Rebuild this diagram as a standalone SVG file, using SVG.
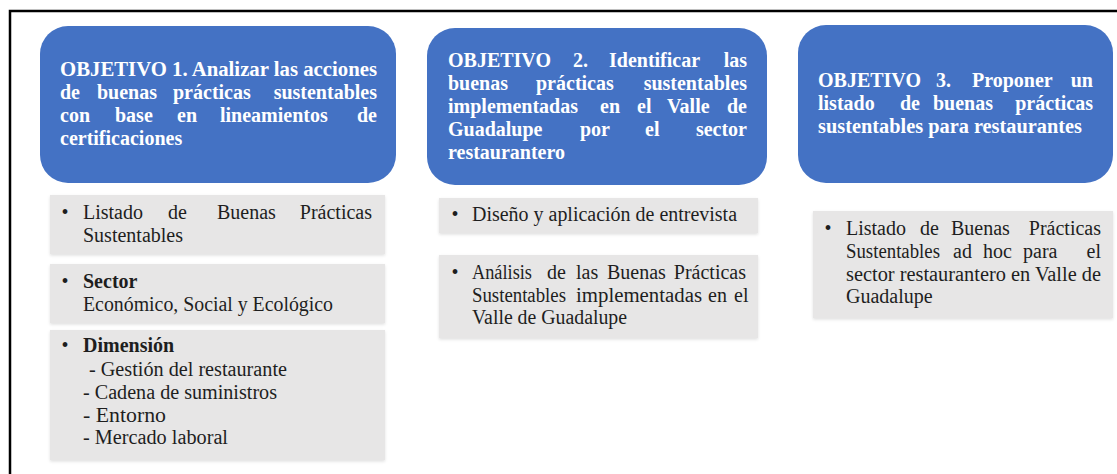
<svg xmlns="http://www.w3.org/2000/svg" width="1117" height="474" viewBox="0 0 1117 474">
<style>
.obj{fill:#4472C4}
.t{font-family:'Liberation Serif','Times New Roman',serif;font-weight:bold;font-size:20px;fill:#ffffff}
.g{fill:#E7E6E6;filter:url(#sh)}
.b{font-family:'Liberation Serif','Times New Roman',serif;font-size:20px;fill:#1e1e1e}
.bb{font-weight:bold}
.m{text-anchor:middle}
.e{text-anchor:end}
</style>
<defs>
<filter id="sh" x="-5%" y="-5%" width="110%" height="120%">
<feDropShadow dx="0" dy="1.5" stdDeviation="1.5" flood-color="#000" flood-opacity="0.12"/>
</filter>
</defs>
<rect width="1117" height="474" fill="#ffffff"/>
<g id="frame">
<path d="M10,474 V11 H1117" fill="none" stroke="#000" stroke-width="2.5"/>
</g>

<g id="obj1">
<rect class="obj" x="40" y="26" width="356" height="157" rx="28"/>
<text class="t" x="60" y="76" textLength="317" lengthAdjust="spacingAndGlyphs">OBJETIVO 1. Analizar las acciones</text>
<text class="t" y="99"><tspan x="60">de</tspan><tspan x="97">buenas</tspan><tspan x="173">prácticas</tspan></text>
<text class="t e" x="377" y="99">sustentables</text>
<text class="t" y="122"><tspan x="60">con</tspan><tspan x="115">base</tspan><tspan x="177">en</tspan><tspan x="220">lineamientos</tspan></text>
<text class="t e" x="377" y="122">de</text>
<text class="t" x="60" y="145">certificaciones</text>
</g>

<g id="obj2">
<rect class="obj" x="427" y="28" width="340" height="157" rx="28"/>
<text class="t" y="67"><tspan x="448">OBJETIVO</tspan><tspan x="573">2.</tspan><tspan x="609">Identificar</tspan></text>
<text class="t e" x="747" y="67">las</text>
<text class="t" y="90"><tspan x="448">buenas</tspan><tspan x="536">prácticas</tspan></text>
<text class="t e" x="747" y="90">sustentables</text>
<text class="t" y="113"><tspan x="448">implementadas</tspan><tspan x="600">en</tspan><tspan x="637">el</tspan><tspan x="667">Valle</tspan></text>
<text class="t e" x="747" y="113">de</text>
<text class="t" y="136"><tspan x="448">Guadalupe</tspan><tspan x="580">por</tspan><tspan x="645">el</tspan></text>
<text class="t e" x="747" y="136">sector</text>
<text class="t" x="448" y="159">restaurantero</text>
</g>

<g id="obj3">
<rect class="obj" x="798" y="25" width="315" height="158" rx="28"/>
<text class="t" y="87"><tspan x="818">OBJETIVO</tspan><tspan x="936">3.</tspan><tspan x="972">Proponer</tspan></text>
<text class="t e" x="1093" y="87">un</text>
<text class="t" y="110"><tspan x="818">listado</tspan><tspan x="900">de</tspan><tspan x="933">buenas</tspan></text>
<text class="t e" x="1093" y="110">prácticas</text>
<text class="t" x="818" y="133" textLength="264" lengthAdjust="spacingAndGlyphs">sustentables para restaurantes</text>
</g>

<g id="item1a">
<rect class="g" x="50" y="195" width="335" height="59"/>
<text class="b m" x="65" y="219">•</text>
<text class="b" y="219"><tspan x="83">Listado</tspan><tspan x="168">de</tspan><tspan x="217">Buenas</tspan></text>
<text class="b e" x="372" y="219">Prácticas</text>
<text class="b" x="83" y="242">Sustentables</text>
</g>

<g id="item1b">
<rect class="g" x="50" y="264" width="335" height="59"/>
<text class="b m" x="65" y="288">•</text>
<text class="b bb" x="83" y="288">Sector</text>
<text class="b" x="83" y="311" textLength="250" lengthAdjust="spacingAndGlyphs">Económico, Social y Ecológico</text>
</g>

<g id="item1c">
<rect class="g" x="50" y="330" width="335" height="130"/>
<text class="b m" x="65" y="352">•</text>
<text class="b bb" x="83" y="352">Dimensión</text>
<text class="b" x="89" y="376" textLength="198" lengthAdjust="spacingAndGlyphs">- Gestión del restaurante</text>
<text class="b" x="83" y="399" textLength="194" lengthAdjust="spacingAndGlyphs">- Cadena de suministros</text>
<text class="b" x="83" y="422" textLength="83" lengthAdjust="spacingAndGlyphs">- Entorno</text>
<text class="b" x="83" y="444" textLength="145" lengthAdjust="spacingAndGlyphs">- Mercado laboral</text>
</g>

<g id="item2a">
<rect class="g" x="439" y="198" width="319" height="35"/>
<text class="b m" x="455" y="221">•</text>
<text class="b" x="472" y="221" textLength="265" lengthAdjust="spacingAndGlyphs">Diseño y aplicación de entrevista</text>
</g>

<g id="item2b">
<rect class="g" x="439" y="255" width="319" height="83"/>
<text class="b m" x="455" y="279">•</text>
<text class="b" x="472" y="279" textLength="60" lengthAdjust="spacingAndGlyphs">Análisis</text>
<text class="b" y="279"><tspan x="547">de</tspan><tspan x="576">las</tspan><tspan x="607">Buenas</tspan></text>
<text class="b e" x="746" y="279">Prácticas</text>
<text class="b" x="472" y="302" textLength="94" lengthAdjust="spacingAndGlyphs">Sustentables</text>
<text class="b" x="576" y="302" textLength="126" lengthAdjust="spacingAndGlyphs">implementadas</text>
<text class="b" x="708" y="302">en</text>
<text class="b" x="734" y="302">el</text>
<text class="b" x="472" y="324" textLength="155" lengthAdjust="spacingAndGlyphs">Valle de Guadalupe</text>
</g>

<g id="item3a">
<rect class="g" x="813" y="211" width="300" height="107"/>
<text class="b m" x="828" y="235">•</text>
<text class="b" y="235"><tspan x="846">Listado</tspan><tspan x="920">de</tspan><tspan x="951">Buenas</tspan></text>
<text class="b e" x="1101" y="235">Prácticas</text>
<text class="b" x="846" y="258" textLength="94" lengthAdjust="spacingAndGlyphs">Sustentables</text>
<text class="b" y="258"><tspan x="953">ad</tspan><tspan x="983">hoc</tspan><tspan x="1023">para</tspan></text>
<text class="b e" x="1101" y="258">el</text>
<text class="b" x="846" y="281" textLength="255" lengthAdjust="spacingAndGlyphs">sector restaurantero en Valle de</text>
<text class="b" x="846" y="303">Guadalupe</text>
</g>
</svg>
